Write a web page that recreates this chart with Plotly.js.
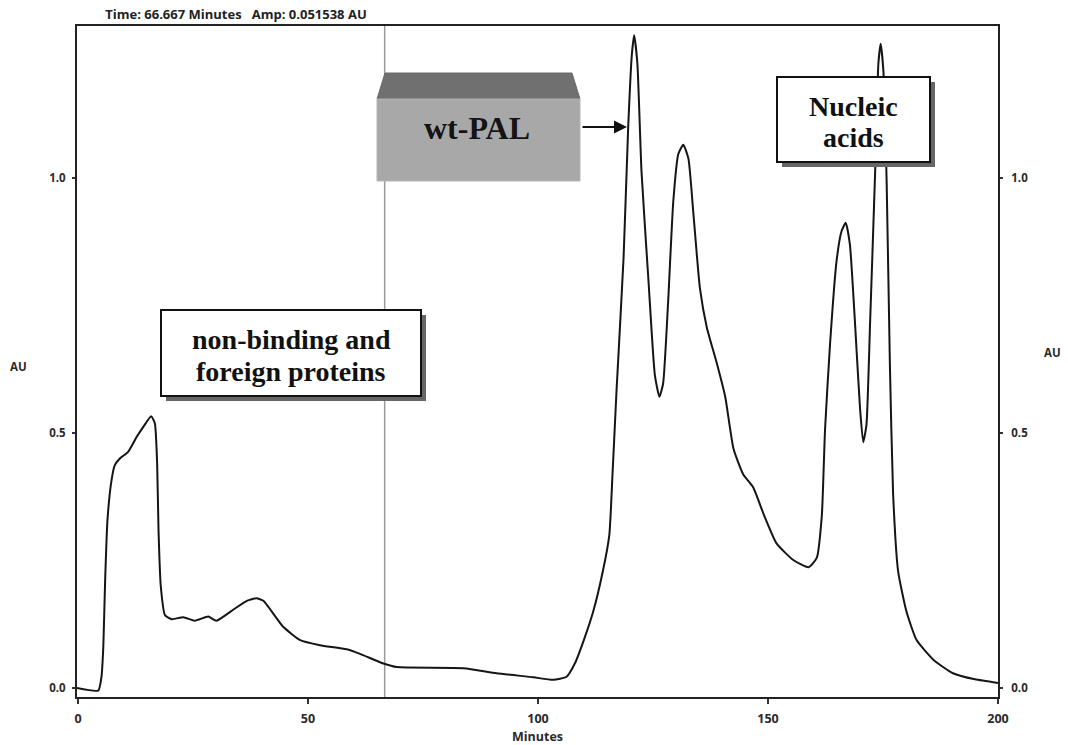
<!DOCTYPE html>
<html>
<head>
<meta charset="utf-8">
<script src="https://cdn.plot.ly/plotly-3.0.1.min.js"></script>
<style>html,body{margin:0;padding:0;background:#fff;}#chart{width:1068px;height:745px;}</style>
</head>
<body>
<div id="chart"></div>
<script>
// ---- data ----
const minutes = [-0.3, 4.4, 5.1, 5.5, 5.9, 6.4, 7.3, 8.0, 9.1, 10.9, 12.8, 14.2, 15.9, 16.7, 17.2, 17.5, 18.0, 18.9, 20.4, 22.9, 25.4, 28.3, 30.1, 33.8, 36.7, 38.8, 40.3, 44.6, 48.3, 52.6, 58.4, 61.3, 66.4, 69.3, 83.8, 91.0, 99.0, 103.3, 106.2, 108.0, 110.0, 112.0, 114.0, 115.5, 116.2, 117.1, 118.6, 119.6, 120.4, 120.9, 121.6, 122.5, 124.0, 125.4, 126.4, 127.2, 128.3, 129.4, 130.5, 131.6, 132.7, 133.8, 135.2, 136.7, 138.8, 140.7, 142.5, 144.6, 146.8, 149.0, 151.9, 155.5, 158.8, 160.6, 161.7, 162.4, 163.5, 164.9, 166.0, 166.9, 167.8, 168.9, 170.0, 170.7, 171.4, 172.2, 173.3, 174.0, 174.5, 175.1, 175.8, 176.5, 177.2, 178.3, 180.1, 182.3, 186.0, 190.2, 195.0, 200.0];
const au = [0.0, -0.005, 0.022, 0.081, 0.212, 0.329, 0.408, 0.437, 0.450, 0.463, 0.493, 0.512, 0.533, 0.519, 0.441, 0.310, 0.199, 0.143, 0.135, 0.139, 0.132, 0.140, 0.132, 0.154, 0.171, 0.176, 0.171, 0.120, 0.094, 0.084, 0.076, 0.067, 0.048, 0.041, 0.039, 0.029, 0.021, 0.016, 0.022, 0.048, 0.095, 0.150, 0.225, 0.300, 0.420, 0.588, 0.843, 1.098, 1.242, 1.280, 1.225, 1.013, 0.801, 0.614, 0.571, 0.597, 0.759, 0.953, 1.047, 1.065, 1.038, 0.928, 0.784, 0.707, 0.639, 0.571, 0.469, 0.419, 0.393, 0.342, 0.283, 0.251, 0.237, 0.255, 0.338, 0.507, 0.676, 0.837, 0.896, 0.912, 0.870, 0.718, 0.549, 0.482, 0.516, 0.718, 1.014, 1.225, 1.263, 1.208, 0.989, 0.634, 0.380, 0.228, 0.150, 0.094, 0.055, 0.029, 0.017, 0.010];
const xTicks = [0, 50, 100, 150, 200];
const yTicks = [0, 0.5, 1.0];
const yTickText = ['0.0', '0.5', '1.0'];
const cursorTime = 66.667;
const headerText = 'Time: 66.667 Minutes\u00a0\u00a0\u00a0Amp: 0.051538 AU';
const labelNonBinding = ['non-binding and', 'foreign proteins'];
const labelPAL = 'wt-PAL';
const labelNucleic = ['Nucleic', 'acids'];

// ---- layout geometry (pixels) ----
const W = 1068, H = 745;
const M = {l: 77, r: 70, t: 26, b: 48};
const PW = W - M.l - M.r, PH = H - M.t - M.b;
const fx = px => (px - M.l) / PW;
const fy = py => (H - M.b - py) / PH;

const tickFont = {family: 'Open Sans, sans-serif', size: 11.5, color: '#2a2a2a', weight: 'bold'};
const labelFont = {family: 'Open Sans, sans-serif', size: 12.5, color: '#2a2a2a', weight: 'bold'};
const serif = 'Liberation Serif, Times New Roman, serif';

const traces = [
  {x: minutes, y: au, type: 'scatter', mode: 'lines', line: {color: '#151515', width: 2, shape: 'spline', smoothing: 0.5}, hoverinfo: 'x+y', showlegend: false},
  {x: minutes, y: au, type: 'scatter', mode: 'lines', yaxis: 'y2', line: {color: 'rgba(0,0,0,0)', width: 0}, hoverinfo: 'skip', showlegend: false}
];

function rect(x0, y0, x1, y1, fill, lineColor, lw) {
  return {type: 'rect', xref: 'paper', yref: 'paper', x0: fx(x0), x1: fx(x1), y0: fy(y1), y1: fy(y0),
    fillcolor: fill, line: {color: lineColor || fill, width: lw || 0}, layer: 'above'};
}
function boxWithShadow(x0, y0, x1, y1) {
  return [rect(x0 + 5, y0 + 5, x1 + 5, y1 + 5, '#666666', '#666666', 0), rect(x0, y0, x1, y1, '#ffffff', '#111111', 2)];
}

const shapes = [
  {type: 'line', xref: 'x', yref: 'paper', x0: cursorTime, x1: cursorTime, y0: 0, y1: 1, line: {color: '#9a9a9a', width: 1.5}, layer: 'below'},
  ...boxWithShadow(161, 310, 421, 396),
  ...boxWithShadow(777, 77, 930, 162),
  // wt-PAL bevelled block
  {type: 'path', xref: 'paper', yref: 'paper', layer: 'above',
    path: `M ${fx(385)} ${fy(73)} L ${fx(572)} ${fy(73)} L ${fx(580)} ${fy(99)} L ${fx(377)} ${fy(99)} Z`,
    fillcolor: '#707070', line: {color: '#6a6a6a', width: 1}},
  rect(377, 99, 580, 181, '#a8a8a8', '#b5b5b5', 1)
];

function txt(text, cx, cy, size, color) {
  return {xref: 'paper', yref: 'paper', x: fx(cx), y: fy(cy), xanchor: 'center', yanchor: 'middle', showarrow: false,
    text: text, font: {family: serif, size: size, color: color || '#111', weight: 'bold'}};
}

const annotations = [
  txt(labelNonBinding[0], 291, 339, 28),
  txt(labelNonBinding[1], 291, 371, 28),
  txt(labelNucleic[0], 853, 106, 28),
  txt(labelNucleic[1], 853, 137, 28),
  txt(labelPAL, 477, 128, 32, '#141414'),
  {xref: 'paper', yref: 'paper', x: fx(627), y: fy(127), ax: -46, ay: 0, text: '', showarrow: true,
    arrowhead: 2, arrowsize: 1.3, arrowwidth: 2, arrowcolor: '#111', standoff: 0},
  {xref: 'paper', yref: 'paper', x: fx(8), y: fy(366), xanchor: 'left', yanchor: 'middle', showarrow: false,
    text: 'AU', font: tickFont},
  {xref: 'paper', yref: 'paper', x: fx(1042), y: fy(352), xanchor: 'left', yanchor: 'middle', showarrow: false,
    text: 'AU', font: tickFont}
];

const yRange = [-0.0176, 1.298];

const layout = {
  width: W, height: H,
  margin: M,
  paper_bgcolor: '#ffffff', plot_bgcolor: '#ffffff',
  showlegend: false,
  title: {text: headerText, font: {family: 'Open Sans, sans-serif', size: 13, color: '#222', weight: 'bold'},
    xref: 'paper', x: fx(236), xanchor: 'center', yref: 'container', y: 1 - 14 / H, yanchor: 'middle'},
  xaxis: {range: [-0.22, 200], tickvals: xTicks, ticktext: xTicks.map(String), ticks: 'outside', ticklen: 5, tickwidth: 1.5,
    tickcolor: '#333', showline: true, linecolor: '#222', linewidth: 2, mirror: true, showgrid: false, zeroline: false,
    tickfont: labelFont, ticklabelstandoff: 4,
    title: {text: 'Minutes', font: labelFont, standoff: 6}},
  yaxis: {range: yRange, tickvals: yTicks, ticktext: yTickText, ticks: 'outside', ticklen: 3, tickwidth: 1.5, tickcolor: '#333',
    showline: true, linecolor: '#222', linewidth: 2, showgrid: false, zeroline: false, tickfont: tickFont, ticklabelstandoff: 4},
  yaxis2: {range: yRange, overlaying: 'y', side: 'right', tickvals: yTicks, ticktext: yTickText, ticks: 'outside', ticklen: 3,
    tickwidth: 1.5, tickcolor: '#333', showline: true, linecolor: '#222', linewidth: 2, showgrid: false, zeroline: false,
    tickfont: tickFont, ticklabelstandoff: 6},
  shapes: shapes,
  annotations: annotations
};

Plotly.newPlot('chart', traces, layout, {displayModeBar: false, staticPlot: false});
</script>
</body>
</html>
